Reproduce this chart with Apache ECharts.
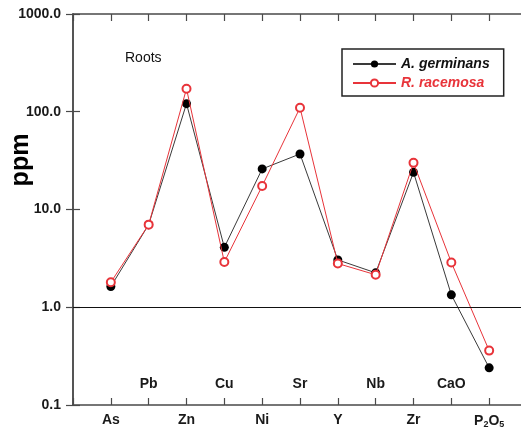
<!DOCTYPE html>
<html><head><meta charset="utf-8">
<script src="https://cdn.jsdelivr.net/npm/echarts@6/dist/echarts.min.js"></script>
<style>html,body{margin:0;padding:0;background:#fff}#c{width:521px;height:433px}</style>
</head><body><div id="c"></div>
<script>
const categories = ['As','Pb','Zn','Cu','Ni','Sr','Y','Nb','Zr','CaO','P2O5'];
const germinans = [1.63, 7.0, 121, 4.1, 26, 37, 3.05, 2.25, 24, 1.34, 0.24];
const racemosa  = [1.8, 7.0, 172, 2.9, 17.4, 110, 2.8, 2.15, 30, 2.87, 0.36];
const yTickLabels = ['0.1','1.0','10.0','100.0','1000.0'];

const FONT = 'Arial, "Liberation Sans", sans-serif';
const AX = '#4a4a4a';
const RED = '#e8343a';

function catLabel(v, odd) {
  const i = Math.round(v) - 1;
  if (Math.abs(v - Math.round(v)) > 1e-6 || i < 0 || i >= categories.length) return '';
  if ((i % 2 === 1) !== odd) return '';
  const c = categories[i];
  if (c === 'P2O5') return '{n|P}{s|2}{n|O}{s|5}';
  return '{n|' + c + '}';
}
const rich = {
  n: {fontSize: 14, fontWeight: 'bold', fontFamily: FONT, color: '#1a1a1a'},
  s: {fontSize: 9, fontWeight: 'bold', fontFamily: FONT, color: '#1a1a1a', padding: [7, 0, 0, 0]}
};

const chart = echarts.init(document.getElementById('c'), null, {renderer: 'canvas'});
chart.setOption({
  backgroundColor: '#fff',
  animation: false,
  grid: {left: 73, right: -6, top: 14, bottom: 28, containLabel: false, outerBoundsMode: 'none'},
  xAxis: [
    {type: 'value', position: 'bottom', min: 0, max: categories.length + 1, interval: 1,
     axisLine: {show: true, lineStyle: {color: AX, width: 1.5}},
     axisTick: {show: true, inside: true, length: 7, lineStyle: {color: AX, width: 1.2}},
     splitLine: {show: false},
     axisLabel: {margin: 8, formatter: v => catLabel(v, false), rich: rich, showMinLabel: true, showMaxLabel: true}},
    {type: 'value', position: 'bottom', min: 0, max: categories.length + 1, interval: 1,
     axisLine: {show: false}, axisTick: {show: false}, splitLine: {show: false},
     axisLabel: {inside: true, margin: 14, formatter: v => catLabel(v, true), rich: rich}},
    {type: 'value', position: 'top', min: 0, max: categories.length + 1, interval: 1,
     axisLine: {show: true, lineStyle: {color: AX, width: 1.5}},
     axisTick: {show: true, inside: true, length: 7, lineStyle: {color: AX, width: 1.2}},
     splitLine: {show: false}, axisLabel: {show: false}}
  ],
  yAxis: [
    {type: 'log', logBase: 10, min: 0.1, max: 1000, position: 'left',
     axisLine: {show: true, lineStyle: {color: AX, width: 1.5}},
     axisTick: {show: true, inside: true, length: 7, lineStyle: {color: AX, width: 1.2}},
     minorTick: {show: false}, splitLine: {show: false},
     axisLabel: {margin: 12, fontSize: 14, fontWeight: 'bold', fontFamily: FONT, color: '#1a1a1a',
       formatter: v => yTickLabels[Math.round(Math.log10(v)) + 1] || ''}},
    {type: 'log', logBase: 10, min: 0.1, max: 1000, position: 'right',
     axisLine: {show: true, lineStyle: {color: AX, width: 1.5}},
     axisTick: {show: true, inside: true, length: 7, lineStyle: {color: AX, width: 1.2}},
     splitLine: {show: false}, axisLabel: {show: false}}
  ],
  legend: {
    orient: 'vertical', left: 342, top: 49,
    borderColor: '#222', borderWidth: 1.5, padding: [8, 14, 6, 10],
    itemWidth: 43, itemHeight: 9, itemGap: 5,
    textStyle: {fontSize: 14, fontWeight: 'bold', fontStyle: 'italic', fontFamily: FONT},
    data: [
      {name: 'A. germinans', textStyle: {color: '#111'}},
      {name: 'R. racemosa', textStyle: {color: RED}}
    ]
  },
  graphic: [
    {type: 'text', left: 125, top: 51,
     style: {text: 'Roots', fontSize: 14, fontFamily: FONT, fill: '#111'}},
    {type: 'text', x: 21, y: 160, rotation: Math.PI / 2,
     style: {text: 'ppm', fontSize: 25, fontWeight: 'bold', fontFamily: FONT, fill: '#000',
       align: 'center', verticalAlign: 'middle'}}
  ],
  series: [
    {name: 'A. germinans', type: 'line', xAxisIndex: 0, yAxisIndex: 0,
     data: germinans.map((v, i) => [i + 1, v]),
     symbol: 'circle', symbolSize: 9,
     lineStyle: {color: '#3a3a3a', width: 1},
     itemStyle: {color: '#000', borderColor: '#000', borderWidth: 0},
     markLine: {silent: true, symbol: 'none', label: {show: false},
       lineStyle: {color: '#111', width: 1.2, type: 'solid'},
       data: [{yAxis: 1}]},
     z: 3},
    {name: 'R. racemosa', type: 'line', xAxisIndex: 0, yAxisIndex: 0,
     data: racemosa.map((v, i) => [i + 1, v]),
     symbol: 'emptyCircle', symbolSize: 8,
     lineStyle: {color: RED, width: 1},
     itemStyle: {color: RED, borderColor: RED, borderWidth: 1.2},
     z: 4}
  ]
});
</script>
</body></html>
